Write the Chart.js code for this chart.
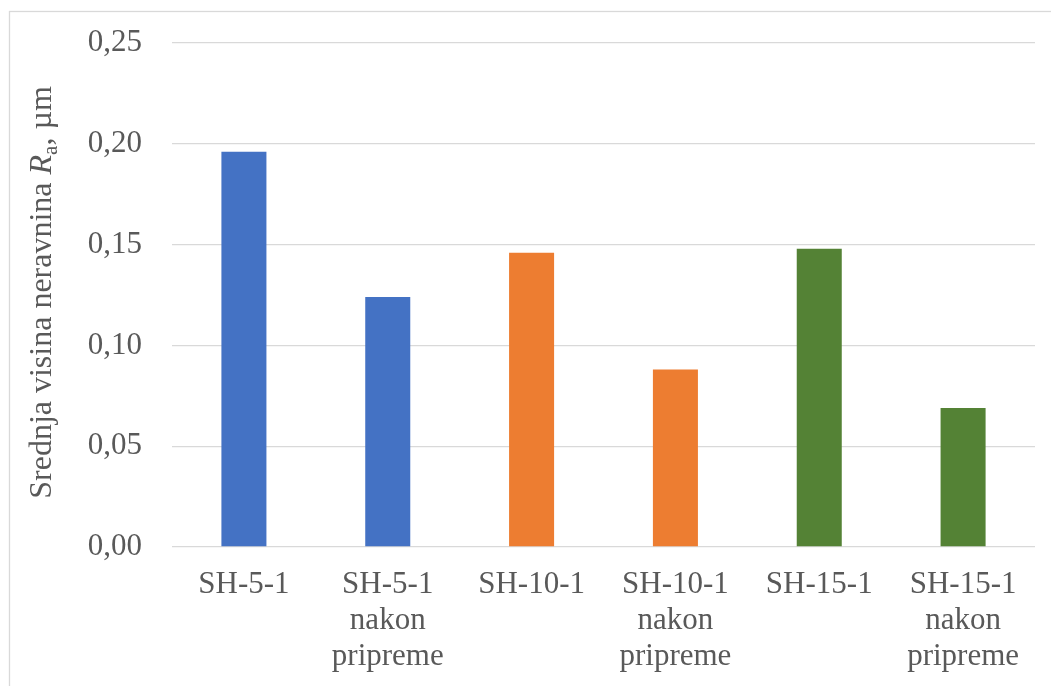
<!DOCTYPE html>
<html>
<head>
<meta charset="utf-8">
<script src="https://cdn.jsdelivr.net/npm/chart.js@4/dist/chart.umd.min.js"></script>
<style>
  html, body { margin: 0; padding: 0; background: #ffffff; }
  #wrap { width: 1051px; height: 686px; position: relative; }
</style>
</head>
<body>
<div id="wrap"><canvas id="c" width="1051" height="686"></canvas></div>
<script>
const categories = [
  ['SH-5-1'],
  ['SH-5-1', 'nakon', 'pripreme'],
  ['SH-10-1'],
  ['SH-10-1', 'nakon', 'pripreme'],
  ['SH-15-1'],
  ['SH-15-1', 'nakon', 'pripreme']
];
const roughness = [0.196, 0.124, 0.146, 0.088, 0.148, 0.069];
const barColors = ['#4472C4', '#4472C4', '#ED7D31', '#ED7D31', '#548235', '#548235'];
const yMin = 0, yMax = 0.25, yStep = 0.05;

const FONT = "'Liberation Serif', 'Times New Roman', serif";
const TEXT = '#595959';
const GRID = '#d9d9d9';

const framePlugin = {
  id: 'frame',
  beforeDraw(chart) {
    const ctx = chart.ctx;
    ctx.save();
    ctx.fillStyle = '#ffffff';
    ctx.fillRect(0, 0, chart.width, chart.height);
    ctx.strokeStyle = GRID;
    ctx.lineWidth = 1.3;
    ctx.strokeRect(9.5, 11.5, 1200, 1000);
    ctx.restore();
  }
};

const yTitlePlugin = {
  id: 'yTitle',
  afterDraw(chart) {
    const ctx = chart.ctx;
    const area = chart.chartArea;
    const cx = 51;
    const cy = (area.top + area.bottom) / 2 - 2.5;
    const big = '32px ' + FONT;
    const ital = 'italic 32px ' + FONT;
    const small = '21px ' + FONT;
    const segs = [
      { t: 'Srednja visina neravnina ', f: big, dy: 0 },
      { t: 'R', f: ital, dy: 0 },
      { t: 'a', f: small, dy: 6 },
      { t: ', \u00B5m', f: big, dy: 0 }
    ];
    ctx.save();
    ctx.fillStyle = TEXT;
    ctx.textBaseline = 'alphabetic';
    ctx.textAlign = 'left';
    let total = 0;
    segs.forEach(s => { ctx.font = s.f; s.w = ctx.measureText(s.t).width; total += s.w; });
    ctx.translate(cx, cy);
    ctx.rotate(-Math.PI / 2);
    let x = -total / 2;
    segs.forEach(s => { ctx.font = s.f; ctx.fillText(s.t, x, s.dy); x += s.w; });
    ctx.restore();
  }
};

new Chart(document.getElementById('c'), {
  type: 'bar',
  data: {
    labels: categories,
    datasets: [{
      data: roughness,
      backgroundColor: barColors,
      borderWidth: 0,
      barPercentage: 0.313,
      categoryPercentage: 1
    }]
  },
  options: {
    responsive: false,
    animation: false,
    devicePixelRatio: 1,
    layout: { padding: { left: 0, right: 16, top: 43, bottom: 0 } },
    plugins: {
      legend: { display: false },
      tooltip: { enabled: false },
      title: { display: false }
    },
    scales: {
      x: {
        grid: { display: false },
        border: { display: false },
        ticks: {
          color: TEXT,
          font: { family: FONT, size: 31, lineHeight: 1.16 },
          padding: 12,
          maxRotation: 0,
          autoSkip: false
        },
        afterFit(s) { s.height = 139; }
      },
      y: {
        min: yMin,
        max: yMax,
        grid: { color: GRID, lineWidth: 1.3, drawTicks: true, tickLength: 30, tickColor: 'rgba(0,0,0,0)' },
        border: { display: false },
        ticks: {
          stepSize: yStep,
          color: TEXT,
          font: { family: FONT, size: 31 },
          padding: 0,
          callback: v => v.toFixed(2).replace('.', ',')
        },
        afterFit(s) { s.width = 172; }
      }
    }
  },
  plugins: [framePlugin, yTitlePlugin]
});
</script>
</body>
</html>
